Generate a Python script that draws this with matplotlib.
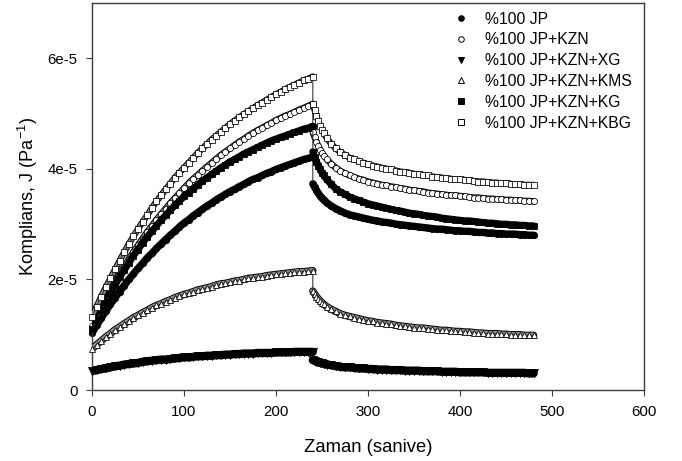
import numpy as np
import matplotlib
matplotlib.use("Agg")
import matplotlib.pyplot as plt
from matplotlib.lines import Line2D
from matplotlib import patheffects as pe

plt.rcParams['font.family'] = ['Liberation Sans', 'DejaVu Sans']
plt.rcParams['mathtext.default'] = 'regular'

# Sampling times (s): creep 0-240 s, recovery 240-480 s
creep_time = list(range(0, 241, 5))
recovery_time = [240, 242, 244, 246, 248, 250, 252] + list(range(255, 481, 5))

# Compliance J in units of 1e-5 Pa^-1
jp_creep = [1.03, 1.17, 1.30, 1.43, 1.55, 1.67, 1.78, 1.89, 2.00, 2.10, 2.20, 2.29, 2.39, 2.47, 2.56, 2.64,
            2.72, 2.80, 2.87, 2.95, 3.02, 3.08, 3.15, 3.21, 3.27, 3.33, 3.38, 3.44, 3.49, 3.54, 3.59, 3.63,
            3.68, 3.72, 3.77, 3.81, 3.84, 3.88, 3.92, 3.95, 3.99, 4.02, 4.05, 4.08, 4.11, 4.14, 4.17, 4.19, 4.22]
jp_recovery = [3.73, 3.67, 3.61, 3.56, 3.51, 3.47, 3.44,
               3.39, 3.33, 3.28, 3.24, 3.20, 3.17, 3.15, 3.13, 3.11, 3.09, 3.07, 3.06, 3.04, 3.03, 3.02, 3.00,
               2.99, 2.98, 2.97, 2.96, 2.95, 2.94, 2.93, 2.92, 2.91, 2.91, 2.90, 2.89, 2.88, 2.88, 2.87, 2.87,
               2.86, 2.85, 2.85, 2.84, 2.84, 2.83, 2.83, 2.82, 2.82, 2.82, 2.81, 2.81, 2.80, 2.80]

kzn_creep = [1.15, 1.32, 1.49, 1.65, 1.80, 1.95, 2.10, 2.23, 2.37, 2.50, 2.62, 2.74, 2.86, 2.97, 3.08, 3.18,
             3.28, 3.38, 3.47, 3.56, 3.65, 3.74, 3.82, 3.89, 3.97, 4.04, 4.11, 4.18, 4.25, 4.31, 4.37, 4.43,
             4.49, 4.54, 4.60, 4.65, 4.70, 4.74, 4.79, 4.83, 4.88, 4.92, 4.96, 4.99, 5.03, 5.07, 5.10, 5.14, 5.17]
kzn_recovery = [4.66, 4.57, 4.49, 4.41, 4.35, 4.29, 4.24,
                4.18, 4.09, 4.02, 3.96, 3.92, 3.88, 3.85, 3.82, 3.80, 3.77, 3.75, 3.73, 3.71, 3.70, 3.68, 3.67,
                3.65, 3.64, 3.62, 3.61, 3.60, 3.59, 3.57, 3.56, 3.55, 3.54, 3.53, 3.52, 3.52, 3.51, 3.50, 3.49,
                3.48, 3.48, 3.47, 3.46, 3.46, 3.45, 3.45, 3.44, 3.44, 3.43, 3.43, 3.42, 3.42, 3.41]

xg_creep = [0.34, 0.36, 0.38, 0.39, 0.41, 0.43, 0.44, 0.46, 0.47, 0.48, 0.49, 0.51, 0.52, 0.53, 0.54, 0.55,
            0.55, 0.56, 0.57, 0.58, 0.59, 0.59, 0.60, 0.61, 0.61, 0.62, 0.62, 0.63, 0.63, 0.64, 0.64, 0.65,
            0.65, 0.66, 0.66, 0.66, 0.67, 0.67, 0.67, 0.67, 0.68, 0.68, 0.68, 0.68, 0.69, 0.69, 0.69, 0.69, 0.69]
xg_recovery = [0.54, 0.53, 0.51, 0.50, 0.49, 0.48, 0.47,
               0.46, 0.45, 0.43, 0.42, 0.41, 0.41, 0.40, 0.39, 0.39, 0.38, 0.38, 0.37, 0.37, 0.37, 0.36, 0.36,
               0.36, 0.35, 0.35, 0.35, 0.35, 0.34, 0.34, 0.34, 0.34, 0.33, 0.33, 0.33, 0.33, 0.32, 0.32, 0.32,
               0.32, 0.32, 0.32, 0.31, 0.31, 0.31, 0.31, 0.31, 0.31, 0.31, 0.31, 0.31, 0.30, 0.30]

kms_creep = [0.74, 0.82, 0.89, 0.96, 1.02, 1.09, 1.14, 1.20, 1.25, 1.31, 1.35, 1.40, 1.44, 1.49, 1.53, 1.56,
             1.60, 1.63, 1.67, 1.70, 1.73, 1.75, 1.78, 1.81, 1.83, 1.85, 1.87, 1.90, 1.92, 1.93, 1.95, 1.97,
             1.98, 2.00, 2.02, 2.03, 2.04, 2.05, 2.07, 2.08, 2.09, 2.10, 2.11, 2.12, 2.13, 2.14, 2.14, 2.15, 2.16]
kms_recovery = [1.79, 1.74, 1.69, 1.65, 1.61, 1.58, 1.55,
                1.51, 1.46, 1.42, 1.38, 1.35, 1.33, 1.31, 1.29, 1.27, 1.25, 1.24, 1.22, 1.21, 1.20, 1.19, 1.17,
                1.16, 1.15, 1.14, 1.13, 1.12, 1.12, 1.11, 1.10, 1.09, 1.08, 1.08, 1.07, 1.06, 1.06, 1.05, 1.05,
                1.04, 1.03, 1.03, 1.02, 1.02, 1.02, 1.01, 1.01, 1.00, 1.00, 1.00, 0.99, 0.99, 0.99]

kg_creep = [1.10, 1.27, 1.44, 1.60, 1.75, 1.90, 2.04, 2.17, 2.30, 2.43, 2.54, 2.66, 2.77, 2.87, 2.97, 3.07,
            3.16, 3.25, 3.34, 3.42, 3.50, 3.57, 3.64, 3.71, 3.78, 3.84, 3.90, 3.96, 4.02, 4.07, 4.13, 4.17,
            4.22, 4.27, 4.31, 4.35, 4.39, 4.43, 4.47, 4.51, 4.54, 4.57, 4.60, 4.63, 4.66, 4.69, 4.72, 4.74, 4.77]
kg_recovery = [4.31, 4.21, 4.13, 4.06, 3.99, 3.93, 3.88,
               3.81, 3.72, 3.64, 3.58, 3.54, 3.49, 3.46, 3.43, 3.40, 3.37, 3.35, 3.33, 3.31, 3.29, 3.27, 3.25,
               3.24, 3.22, 3.20, 3.19, 3.18, 3.16, 3.15, 3.14, 3.13, 3.11, 3.10, 3.09, 3.08, 3.07, 3.06, 3.06,
               3.05, 3.04, 3.03, 3.02, 3.02, 3.01, 3.00, 3.00, 2.99, 2.99, 2.98, 2.98, 2.97, 2.97]

kbg_creep = [1.32, 1.51, 1.69, 1.86, 2.02, 2.18, 2.34, 2.49, 2.64, 2.78, 2.91, 3.04, 3.16, 3.29, 3.41, 3.52,
             3.63, 3.73, 3.84, 3.93, 4.02, 4.11, 4.20, 4.29, 4.37, 4.45, 4.53, 4.60, 4.67, 4.74, 4.81, 4.87,
             4.93, 4.99, 5.04, 5.10, 5.15, 5.20, 5.25, 5.30, 5.35, 5.39, 5.44, 5.48, 5.52, 5.56, 5.60, 5.63, 5.67]
kbg_recovery = [5.18, 5.06, 4.96, 4.86, 4.78, 4.71, 4.65,
                4.56, 4.45, 4.37, 4.30, 4.25, 4.20, 4.17, 4.14, 4.11, 4.08, 4.06, 4.04, 4.02, 4.00, 3.99, 3.97,
                3.95, 3.94, 3.93, 3.91, 3.90, 3.89, 3.88, 3.86, 3.85, 3.84, 3.83, 3.82, 3.81, 3.81, 3.80, 3.79,
                3.78, 3.77, 3.77, 3.76, 3.75, 3.75, 3.74, 3.74, 3.73, 3.72, 3.72, 3.71, 3.71, 3.71]

series_labels = ["%100 JP", "%100 JP+KZN", "%100 JP+KZN+XG",
                 "%100 JP+KZN+KMS", "%100 JP+KZN+KG", "%100 JP+KZN+KBG"]

x_ticks = [0, 100, 200, 300, 400, 500, 600]
y_ticks = [0, 2e-5, 4e-5, 6e-5]
y_tick_labels = ["0", "2e-5", "4e-5", "6e-5"]

# (creep, recovery, marker, face colour, marker size on plot, marker size in legend)
series = [
    (jp_creep, jp_recovery, "o", "black", 4.6, 4.0),
    (kzn_creep, kzn_recovery, "o", "white", 4.4, 4.0),
    (xg_creep, xg_recovery, "v", "black", 5.2, 4.6),
    (kms_creep, kms_recovery, "^", "white", 5.0, 4.6),
    (kg_creep, kg_recovery, "s", "black", 4.4, 3.9),
    (kbg_creep, kbg_recovery, "s", "white", 4.3, 3.9),
]

fig = plt.figure(figsize=(6.82, 4.61), dpi=100)
ax = fig.add_axes([92 / 682, 1 - 390 / 461, (644 - 92) / 682, (390 - 3) / 461])

time = np.array(creep_time + recovery_time)
handles = []
z = 2
for (creep, recovery, marker, face, size, lsize), label in zip(series, series_labels):
    j = np.array(creep + recovery) * 1e-5
    # densely packed symbols merge into a band along each segment
    for seg_t, seg_j in ((creep_time, creep), (recovery_time, recovery)):
        seg_j = np.array(seg_j) * 1e-5
        if face == "black":
            ax.plot(seg_t, seg_j, color="black", lw=size * 1.15,
                    solid_capstyle="round", zorder=z)
        else:
            width = size * 1.05
            ax.plot(seg_t, seg_j, color="#8e8e8e", lw=width - 1.4,
                    solid_capstyle="round", zorder=z,
                    path_effects=[pe.Stroke(linewidth=width, foreground="black"),
                                  pe.Normal()])
    ax.plot(time, j, color="#3a3a3a", lw=0.8, zorder=z + 0.1)
    ax.plot(time, j, ls="none", marker=marker, ms=size, mfc=face, mec="black",
            mew=0.55, zorder=z + 0.2, clip_on=False)
    handles.append(Line2D([], [], ls="none", marker=marker, ms=lsize,
                          mfc=face, mec="black", mew=0.7, label=label))
    z += 1

ax.set_xlim(0, 600)
ax.set_ylim(0, 7e-5)
ax.set_xticks(x_ticks)
ax.set_xticklabels([str(v) for v in x_ticks])
ax.set_yticks(y_ticks)
ax.set_yticklabels(y_tick_labels)

for sp in ax.spines.values():
    sp.set_color("#3c3c3c")
    sp.set_linewidth(1.0)
ax.tick_params(direction="out", length=4, width=0.8, color="#3c3c3c",
               labelsize=10.8, pad=6.5, top=False, right=False)

ax.set_xlabel("Zaman (sanive)", fontsize=13.3, labelpad=15)
ax.set_ylabel("Komplians, J (Pa$^{-1}$)", fontsize=13.1, labelpad=5)

ax.legend(handles=handles, loc="upper left", bbox_to_anchor=(0.655, 0.978),
          frameon=False, fontsize=11.3, handlelength=1.0, handletextpad=1.0,
          labelspacing=0.37, borderpad=0, borderaxespad=0)

fig.savefig("out.png", dpi=100)
